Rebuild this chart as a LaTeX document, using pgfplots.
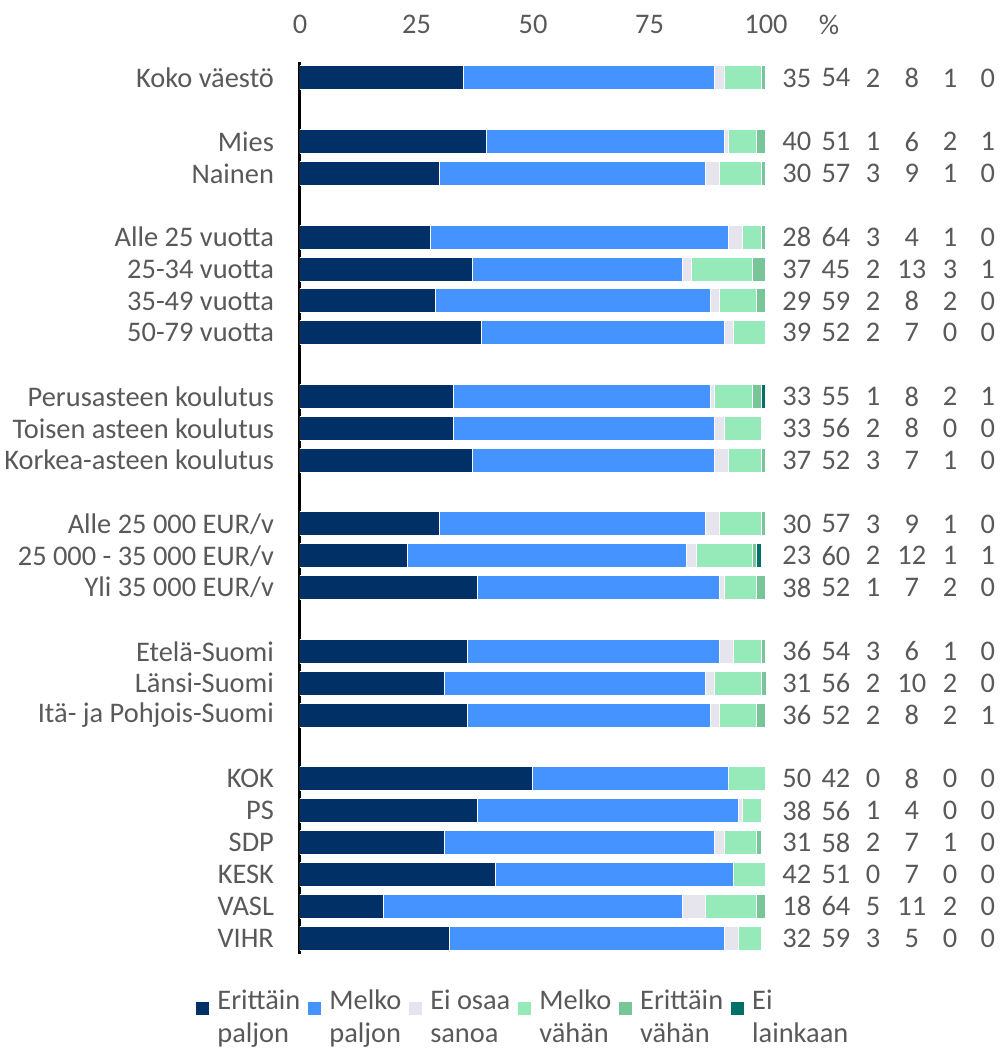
\documentclass[border=0pt]{standalone}
\usepackage{pgfplots}
\pgfplotsset{compat=1.18}
\usepackage{pgfplotstable}
\usepackage{fontspec}
\setmainfont{Carlito}
\definecolor{c1}{HTML}{003066}
\definecolor{c2}{HTML}{4493FF}
\definecolor{c3}{HTML}{E6E4EC}
\definecolor{c4}{HTML}{96E9B9}
\definecolor{c5}{HTML}{78C597}
\definecolor{c6}{HTML}{007168}
\definecolor{txt}{HTML}{595959}
\pgfplotstableread{
y a b c d e f
27 35 54 2 8 1 0
25 40 51 1 6 2 1
24 30 57 3 9 1 0
22 28 64 3 4 1 0
21 37 45 2 13 3 1
20 29 59 2 8 2 0
19 39 52 2 7 0 0
17 33 55 1 8 2 1
16 33 56 2 8 0 0
15 37 52 3 7 1 0
13 30 57 3 9 1 0
12 23 60 2 12 1 1
11 38 52 1 7 2 0
9 36 54 3 6 1 0
8 31 56 2 10 2 0
7 36 52 2 8 2 1
5 50 42 0 8 0 0
4 38 56 1 4 0 0
3 31 58 2 7 1 0
2 42 51 0 7 0 0
1 18 64 5 11 2 0
0 32 59 3 5 0 0
}\data
\newcommand{\lfont}{\fontsize{14.2}{16.5}\selectfont}
\begin{document}
\begin{tikzpicture}
\path[use as bounding box] (-150pt,-48pt) rectangle (351.5pt,477pt);
\begin{axis}[
  scale only axis, width=233pt, height=446pt,
  at={(0,0)}, anchor=south west,
  xbar stacked, bar width=12pt,
  xmin=0, xmax=100, ymin=-0.5, ymax=27.5,
  axis x line*=top, axis y line*=left,
  axis line style={-},
  x axis line style={draw=none},
  y axis line style={black, line width=1.5pt},
  major tick length=0pt,
  xtick={0,25,50,75,100},
  ytick={0,1,2,3,4,5,7,8,9,11,12,13,15,16,17,19,20,21,22,24,25,27},
  yticklabels={VIHR,VASL,KESK,SDP,PS,KOK,Itä- ja Pohjois-Suomi,Länsi-Suomi,Etelä-Suomi,Yli 35 000 EUR/v,25 000 - 35 000 EUR/v,Alle 25 000 EUR/v,Korkea-asteen koulutus,Toisen asteen koulutus,Perusasteen koulutus,50-79 vuotta,35-49 vuotta,25-34 vuotta,Alle 25 vuotta,Nainen,Mies,Koko väestö},
  /pgf/number format/assume math mode=true,
  tick label style={font=\lfont, text=txt},
  xticklabel style={anchor=base, yshift=14pt},
  yticklabel style={anchor=east, xshift=-9.5pt},
  every axis plot/.append style={draw=white, line width=0.5pt},
  legend columns=6,
  legend style={at={(axis description cs:0,0)}, anchor=north west, xshift=-52pt, yshift=-15.5pt,
    draw=none, fill=none, inner sep=0pt, font=\lfont, text=txt,
    column sep=2pt, cells={align=left, anchor=west}},
  legend image code/.code={\fill[#1, draw=none] (0pt,1pt) rectangle (6.5pt,7.5pt);},
]
\addplot[fill=c1] table[x=a,y=y]{\data};
\addplot[fill=c2] table[x=b,y=y]{\data};
\addplot[fill=c3] table[x=c,y=y]{\data};
\addplot[fill=c4] table[x=d,y=y]{\data};
\addplot[fill=c5] table[x=e,y=y]{\data};
\addplot[fill=c6] table[x=f,y=y]{\data};
\legend{{Erittäin\\paljon},{Melko\\paljon},{Ei osaa\\sanoa},{Melko\\vähän},{Erittäin\\vähän},{Ei\\lainkaan}}
\end{axis}
\begin{axis}[
  scale only axis, width=233pt, height=446pt,
  at={(0,0)}, anchor=south west,
  xmin=0, xmax=100, ymin=-0.5, ymax=27.5,
  hide axis, clip=false,
  nodes near coords, point meta=explicit symbolic,
  every node near coord/.append style={anchor=center, font=\lfont, text=txt},
]
\addplot[draw=none, mark=none] table[x expr=106.6, y=y, meta=a]{\data};
\addplot[draw=none, mark=none] table[x expr=115.0, y=y, meta=b]{\data};
\addplot[draw=none, mark=none] table[x expr=123.0, y=y, meta=c]{\data};
\addplot[draw=none, mark=none] table[x expr=131.3, y=y, meta=d]{\data};
\addplot[draw=none, mark=none] table[x expr=139.5, y=y, meta=e]{\data};
\addplot[draw=none, mark=none] table[x expr=147.6, y=y, meta=f]{\data};
\node[font=\lfont, text=txt] at (axis cs:113.5,28.66) {\%};
\end{axis}
\end{tikzpicture}
\end{document}
